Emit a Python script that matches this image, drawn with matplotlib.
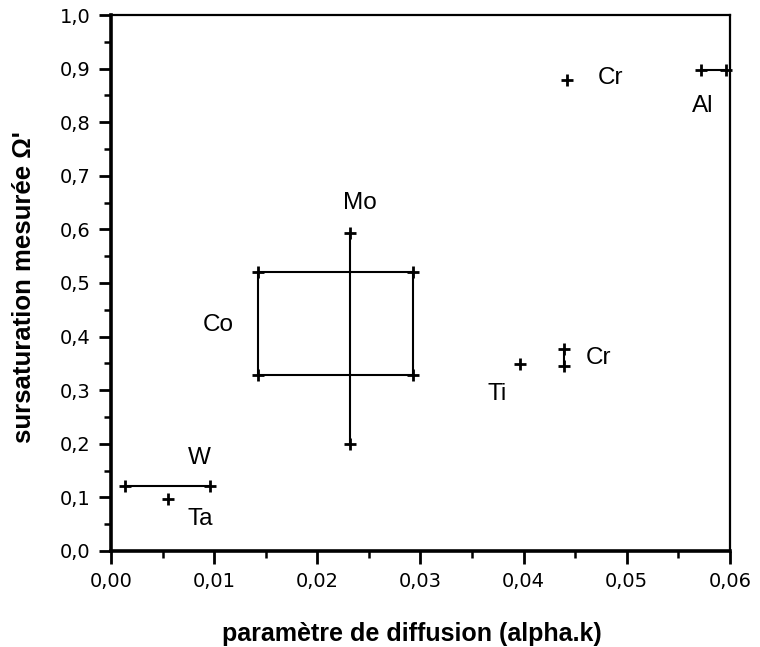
import matplotlib
matplotlib.use("Agg")
import matplotlib.pyplot as plt
from matplotlib.ticker import MultipleLocator, FuncFormatter

plt.rcParams['font.family'] = ['Liberation Sans', 'DejaVu Sans']

# Single points
pt_names = ["Cr", "Ti", "Ta"]
pt_x = [0.0442, 0.0396, 0.0055]
pt_y = [0.879, 0.349, 0.097]

# Horizontal ranges (element, y, xmin, xmax)
h_names = ["Al", "W"]
h_y = [0.897, 0.121]
h_xmin = [0.0572, 0.0014]
h_xmax = [0.0596, 0.0096]

# Vertical ranges (element, x, ymin, ymax)
v_names = ["Mo", "Cr"]
v_x = [0.0232, 0.0439]
v_ymin = [0.200, 0.345]
v_ymax = [0.593, 0.377]

# Co box (x range, y range)
co_x = [0.0143, 0.0293]
co_y = [0.328, 0.520]

# Labels
lab_text = ["Cr", "Al", "Mo", "Co", "Ti", "Cr", "W", "Ta"]
lab_x = [0.0472, 0.0563, 0.0225, 0.0089, 0.0365, 0.0460, 0.0075, 0.0074]
lab_y = [0.882, 0.830, 0.649, 0.421, 0.293, 0.360, 0.174, 0.060]

fig = plt.figure(figsize=(7.6, 6.47), dpi=100)
ax = fig.add_axes([0.146, 0.1484, 0.8145, 0.8284])

ms = 9
mew = 2.0
lw = 1.5
k = 'black'

ax.plot(pt_x, pt_y, linestyle='none', marker='+', ms=ms, mew=mew, color=k)
for y, x0, x1 in zip(h_y, h_xmin, h_xmax):
    ax.plot([x0, x1], [y, y], color=k, lw=lw, marker='+', ms=ms, mew=mew, clip_on=False)
for x, y0, y1 in zip(v_x, v_ymin, v_ymax):
    ax.plot([x, x], [y0, y1], color=k, lw=lw, marker='+', ms=ms, mew=mew)
# Co box edges
for y in co_y:
    ax.plot(co_x, [y, y], color=k, lw=lw, marker='+', ms=ms, mew=mew)
for x in co_x:
    ax.plot([x, x], co_y, color=k, lw=lw)

for t, x, y in zip(lab_text, lab_x, lab_y):
    ax.text(x, y, t, fontsize=17.5, ha='left', va='center')

ax.set_xlim(0, 0.06)
ax.set_ylim(0, 1.0)
ax.xaxis.set_major_locator(MultipleLocator(0.01))
ax.xaxis.set_minor_locator(MultipleLocator(0.005))
ax.yaxis.set_major_locator(MultipleLocator(0.1))
ax.yaxis.set_minor_locator(MultipleLocator(0.05))
ax.xaxis.set_major_formatter(FuncFormatter(lambda v, p: f"{v:.2f}".replace('.', ',')))
ax.yaxis.set_major_formatter(FuncFormatter(lambda v, p: f"{v:.1f}".replace('.', ',')))

ax.tick_params(axis='both', which='major', direction='out', length=9, width=2.0, pad=6)
ax.tick_params(axis='both', which='minor', direction='out', length=5, width=1.8)
for lab in ax.get_xticklabels() + ax.get_yticklabels():
    lab.set_fontfamily(['DejaVu Sans'])
    lab.set_fontsize(14)

ax.spines['left'].set_linewidth(2.6)
ax.spines['bottom'].set_linewidth(2.6)
ax.spines['top'].set_linewidth(1.6)
ax.spines['right'].set_linewidth(1.6)

ax.set_xlabel("paramètre de diffusion (alpha.k)", fontsize=18, fontweight='bold')
ax.set_ylabel("sursaturation mesurée Ω'", fontsize=18.5, fontweight='bold')
ax.xaxis.set_label_coords(0.486, -0.133)
ax.yaxis.set_label_coords(-0.121, 0.4925)

fig.savefig("out.png", dpi=100)
